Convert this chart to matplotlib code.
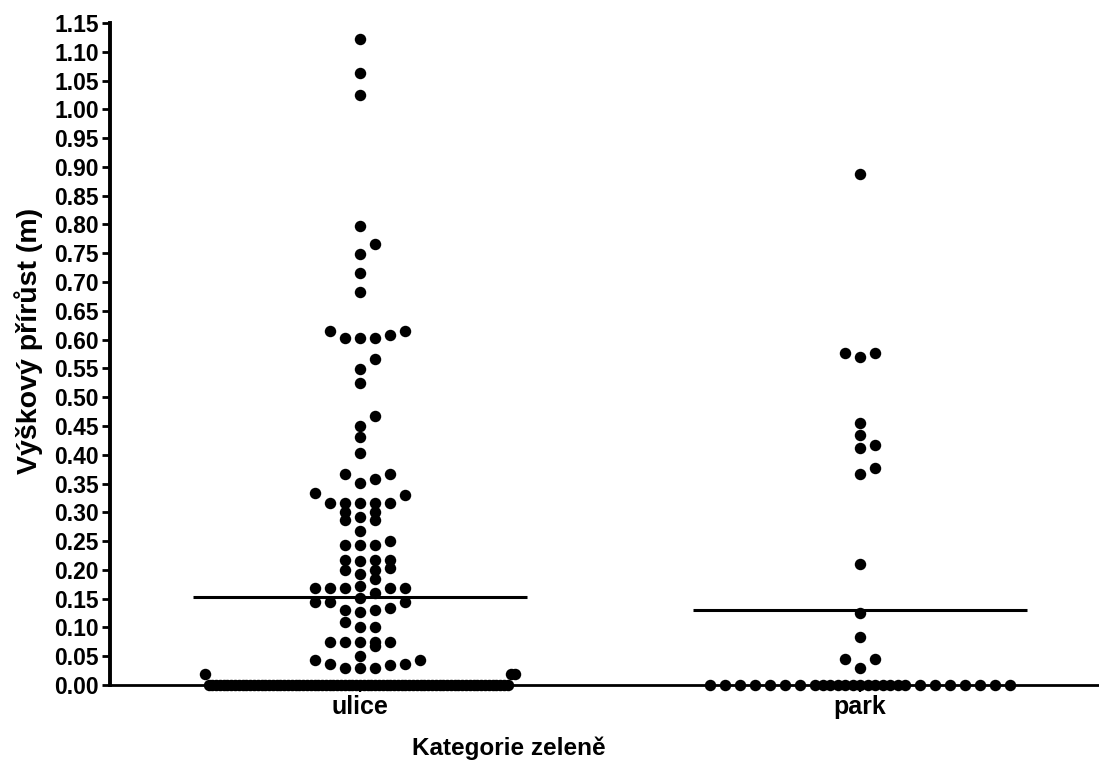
import numpy as np
import matplotlib
matplotlib.use("Agg")
import matplotlib.pyplot as plt

categories = ["ulice", "park"]

# výškový přírůst jednotlivých stromů (m)
ulice = [0.0] * 80 + [
    0.019, 0.019, 0.019,
    0.029, 0.029, 0.029, 0.035, 0.036, 0.036, 0.043, 0.043, 0.051,
    0.068, 0.075, 0.075, 0.075, 0.075, 0.075,
    0.101, 0.101, 0.109,
    0.127, 0.130, 0.131, 0.134, 0.144, 0.144, 0.145, 0.151,
    0.159, 0.168, 0.168, 0.168, 0.168, 0.168, 0.172,
    0.184, 0.193, 0.200, 0.200, 0.203,
    0.215, 0.218, 0.218, 0.218,
    0.243, 0.243, 0.243, 0.251, 0.267,
    0.286, 0.287, 0.292, 0.300, 0.300,
    0.316, 0.316, 0.316, 0.316, 0.316, 0.330, 0.333,
    0.351, 0.358, 0.366, 0.366,
    0.403, 0.430, 0.450, 0.467,
    0.525, 0.549, 0.566,
    0.602, 0.602, 0.602, 0.608, 0.615, 0.615,
    0.683, 0.715, 0.749, 0.766, 0.798,
    1.025, 1.064, 1.122,
]
park = [0.0] * 27 + [
    0.029, 0.045, 0.045, 0.084, 0.125, 0.211,
    0.367, 0.377, 0.411, 0.417, 0.434, 0.456,
    0.570, 0.577, 0.577, 0.888,
]

yticks = np.arange(0, 1.151, 0.05)


def slot_order(n, max_slot=10):
    # centre first, then alternately right/left
    if n > 4 * max_slot + 1:
        # too many for the row: squeeze them evenly over the full width
        half = n // 2
        d = (max_slot + 0.35) / half
        seq = [0.0]
        for k in range(1, half + 1):
            seq += [-k * d, k * d]
        return seq[:n]
    seq = [0.0]
    for k in range(1, max_slot + 1):
        seq += [k, -k]
    # a full row gets the gaps filled from the middle outwards
    for k in range(max_slot):
        seq += [k + 0.5, -(k + 0.5)]
    return seq[:n]


def swarm(values, row_h=0.02, step=0.03):
    values = np.asarray(values)
    order = np.argsort(values, kind="stable")
    offs = np.zeros(len(values))
    rows, cur, start = [], [], None
    for i in order:
        if start is None or values[i] - start >= row_h:
            if cur:
                rows.append(cur)
            cur, start = [i], values[i]
        else:
            cur.append(i)
    rows.append(cur)
    for row in rows:
        for i, s in zip(row, slot_order(len(row))):
            offs[i] = s * step
    return offs


plt.rcParams["font.family"] = ["Liberation Sans", "DejaVu Sans"]
plt.rcParams["font.weight"] = "bold"

fig = plt.figure(figsize=(10.99, 7.65), dpi=100)
ax = fig.add_axes([110 / 1099, 80 / 765, 1000 / 1099, 662 / 765])

for x, vals in enumerate([ulice, park]):
    vals = np.asarray(vals)
    ax.scatter(x + swarm(vals), vals, s=68, color="black", linewidths=0,
               zorder=3, clip_on=False)
    m = vals.mean()
    ax.plot([x - 0.334, x + 0.334], [m, m], color="black", lw=2.2,
            zorder=4, solid_capstyle="butt")

ax.set_xlim(-0.5, 1.5)
ax.set_ylim(0, 1.15)
ax.set_yticks(yticks)
ax.set_yticklabels([f"{t:.2f}" for t in yticks])
ax.set_xticks(range(len(categories)))
ax.set_xticklabels(categories)

ax.spines["top"].set_visible(False)
ax.spines["right"].set_visible(False)
ax.spines["left"].set_linewidth(2.8)
ax.spines["bottom"].set_linewidth(2.0)
ax.tick_params(axis="y", direction="out", length=6, width=2.0,
               labelsize=16.5, pad=2)
ax.tick_params(axis="x", direction="out", length=5, width=1.6,
               labelsize=18, pad=2)

ax.set_ylabel("Výškový přírůst (m)", fontsize=20.5, fontweight="bold")
ax.yaxis.set_label_coords(-0.067, 0.52)
ax.set_xlabel("Kategorie zeleně", fontsize=17.5, fontweight="bold")
ax.xaxis.set_label_coords(0.399, -0.078)

fig.savefig("out.png", dpi=100)
